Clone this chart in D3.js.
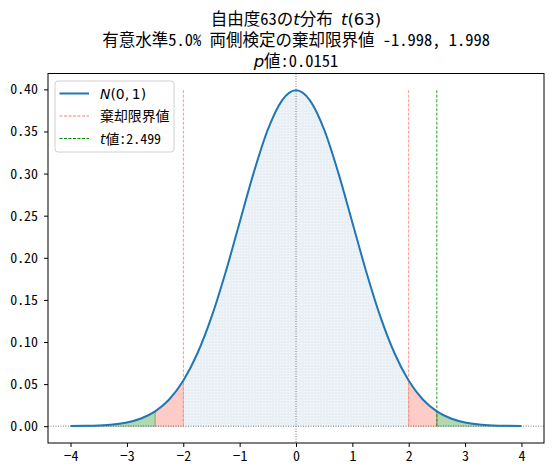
<!DOCTYPE html>
<html lang="ja">
<head>
    <meta charset="UTF-8">
    <title>t分布 棄却域</title>
    <script src="https://d3js.org/d3.v7.min.js"></script>
    <style>
        body { margin: 0; background: #fff; }
        text { font-family: "Noto Sans Mono CJK JP", "Noto Sans CJK JP", "DejaVu Sans", sans-serif; }
        .math { font-family: "DejaVu Sans", sans-serif; font-style: italic; }
    </style>
</head>
<body>
    <svg></svg>
<script>

    const xs = [-4, -3.75, -3.5, -3.25, -3, -2.75, -2.499, -2.25, -1.998, -1.75, -1.5, -1.25, -1, -0.75, -0.5, -0.25,
                0, 0.25, 0.5, 0.75, 1, 1.25, 1.5, 1.75, 1.998, 2.25, 2.499, 2.75, 3, 3.25, 3.5, 3.75, 4];
    const density = [0.0001, 0.0004, 0.0009, 0.0020, 0.0044, 0.0091, 0.0176, 0.0317, 0.0542, 0.0863, 0.1295, 0.1826, 0.2420, 0.3011, 0.3521, 0.3867,
                     0.3989, 0.3867, 0.3521, 0.3011, 0.2420, 0.1826, 0.1295, 0.0863, 0.0542, 0.0317, 0.0176, 0.0091, 0.0044, 0.0020, 0.0009, 0.0004, 0.0001];

    const critical = 1.998;   // 棄却限界値
    const tValue = 2.499;     // t値
    const pValue = "0.0151";
    const vlineTop = 0.4;

    const xTicks = [-4, -3, -2, -1, 0, 1, 2, 3, 4];
    const yTicks = [0, 0.05, 0.10, 0.15, 0.20, 0.25, 0.30, 0.35, 0.40];

    const width = 553;
    const height = 476;
    const plotLeft = 48, plotRight = 544, plotTop = 73.5, plotBottom = 443;

    const svg = d3.select("svg")
        .attr("width", width)
        .attr("height", height);

    svg.append("rect").attr("width", width).attr("height", height).attr("fill", "#fff");

    const x = d3.scaleLinear().domain([-4.4, 4.4]).range([plotLeft, plotRight]);
    const y = d3.scaleLinear().domain([-0.01995, 0.41884]).range([plotBottom, plotTop]);

    const pts = xs.map((v, i) => ({ x: v, y: density[i] }));
    const eps = 1e-9;

    // dotted texture for the centre region
    const defs = svg.append("defs");
    const pat = defs.append("pattern")
        .attr("id", "dots")
        .attr("width", 3).attr("height", 3)
        .attr("patternUnits", "userSpaceOnUse");
    pat.append("rect").attr("width", 3).attr("height", 3).attr("fill", "#e9f0f5");
    pat.append("rect").attr("x", 1).attr("y", 1).attr("width", 1).attr("height", 1).attr("fill", "#f8fafc");

    const clip = defs.append("clipPath").attr("id", "plot");
    clip.append("rect").attr("x", plotLeft).attr("y", plotTop)
        .attr("width", plotRight - plotLeft).attr("height", plotBottom - plotTop);

    const plot = svg.append("g").attr("clip-path", "url(#plot)");

    const area = d3.area()
        .curve(d3.curveMonotoneX)
        .x(d => x(d.x))
        .y0(y(0))
        .y1(d => y(d.y));

    const line = d3.line()
        .curve(d3.curveMonotoneX)
        .x(d => x(d.x))
        .y(d => y(d.y));

    const between = (a, b) => pts.filter(d => d.x >= a - eps && d.x <= b + eps);

    // centre region
    plot.append("path")
        .datum(between(-critical, critical))
        .attr("d", area)
        .attr("fill", "url(#dots)");

    // critical value .. t value
    [[-tValue, -critical], [critical, tValue]].forEach(([a, b]) => {
        plot.append("path")
            .datum(between(a, b))
            .attr("d", area)
            .attr("fill", "salmon").attr("fill-opacity", 0.4)
            .attr("stroke", "salmon").attr("stroke-opacity", 0.4).attr("stroke-width", 1);
    });

    // beyond the t value
    [[-4, -tValue], [tValue, 4]].forEach(([a, b]) => {
        plot.append("path")
            .datum(between(a, b))
            .attr("d", area)
            .attr("fill", "green").attr("fill-opacity", 0.3)
            .attr("stroke", "green").attr("stroke-opacity", 0.3).attr("stroke-width", 1);
    });

    // reference lines
    plot.append("line")
        .attr("x1", plotLeft).attr("x2", plotRight)
        .attr("y1", y(0)).attr("y2", y(0))
        .attr("stroke", "#555").attr("stroke-width", 0.8).attr("stroke-dasharray", "1,1.5");
    plot.append("line")
        .attr("x1", x(0)).attr("x2", x(0))
        .attr("y1", plotTop).attr("y2", plotBottom)
        .attr("stroke", "#555").attr("stroke-width", 0.8).attr("stroke-dasharray", "1,1.5");

    [-critical, critical].forEach(c => {
        plot.append("line")
            .attr("x1", x(c)).attr("x2", x(c))
            .attr("y1", y(0)).attr("y2", y(vlineTop))
            .attr("stroke", "salmon").attr("stroke-width", 0.8).attr("stroke-dasharray", "3,1.5");
    });
    plot.append("line")
        .attr("x1", x(tValue)).attr("x2", x(tValue))
        .attr("y1", y(0)).attr("y2", y(vlineTop))
        .attr("stroke", "green").attr("stroke-width", 0.8).attr("stroke-dasharray", "3,1.5");

    // N(0,1) curve
    plot.append("path")
        .datum(pts)
        .attr("d", line)
        .attr("fill", "none")
        .attr("stroke", "#1f77b4")
        .attr("stroke-width", 2);

    // axes
    const fmtX = d => d < 0 ? "\u2212" + Math.abs(d) : String(d);
    svg.append("g")
        .attr("transform", `translate(0, ${plotBottom})`)
        .call(d3.axisBottom(x).tickValues(xTicks).tickFormat(fmtX).tickSize(4).tickPadding(4))
        .call(g => g.select(".domain").remove())
        .call(g => g.selectAll("text").attr("font-size", 13.9).attr("fill", "#000")
            .style("font-family", "'Noto Sans Mono CJK JP', 'Noto Sans CJK JP', sans-serif"));

    svg.append("g")
        .attr("transform", `translate(${plotLeft}, 0)`)
        .call(d3.axisLeft(y).tickValues(yTicks).tickFormat(d3.format(".2f")).tickSize(4).tickPadding(6))
        .call(g => g.select(".domain").remove())
        .call(g => g.selectAll("text").attr("font-size", 13.9).attr("fill", "#000")
            .style("font-family", "'Noto Sans Mono CJK JP', 'Noto Sans CJK JP', sans-serif"));

    svg.append("rect")
        .attr("x", plotLeft).attr("y", plotTop)
        .attr("width", plotRight - plotLeft).attr("height", plotBottom - plotTop)
        .attr("fill", "none").attr("stroke", "#000").attr("stroke-width", 1);

    // title
    const cx = (plotLeft + plotRight) / 2;
    const t1 = svg.append("text").attr("x", cx).attr("y", 25).attr("text-anchor", "middle").attr("font-size", 16.5);
    t1.append("tspan").text("自由度63の");
    t1.append("tspan").attr("class", "math").text("t");
    t1.append("tspan").text("分布\u00a0");
    t1.append("tspan").attr("class", "math").text("t");
    t1.append("tspan").style("font-family", "'DejaVu Sans', sans-serif").text("(63)");

    svg.append("text").attr("x", cx).attr("y", 46).attr("text-anchor", "middle").attr("font-size", 16.5)
        .text(`有意水準5.0% 両側検定の棄却限界値 -${critical}, ${critical}`);

    const t3 = svg.append("text").attr("x", cx).attr("y", 67).attr("text-anchor", "middle").attr("font-size", 16.5);
    t3.append("tspan").attr("class", "math").text("p");
    t3.append("tspan").text(`値:${pValue}`);

    // legend
    const lg = svg.append("g").attr("transform", "translate(55, 81)");
    lg.append("rect")
        .attr("width", 119).attr("height", 71).attr("rx", 3)
        .attr("fill", "#fff").attr("fill-opacity", 0.8)
        .attr("stroke", "#d0d0d0").attr("stroke-width", 1);

    const entries = [
        { color: "#1f77b4", width: 2, dash: null },
        { color: "salmon", width: 1, dash: "3,1.5" },
        { color: "green", width: 1, dash: "3,1.5" }
    ];
    entries.forEach((e, i) => {
        const yy = 12.5 + i * 22.5;
        lg.append("line")
            .attr("x1", 4.5).attr("x2", 34).attr("y1", yy).attr("y2", yy)
            .attr("stroke", e.color).attr("stroke-width", e.width)
            .attr("stroke-dasharray", e.dash);
    });

    const l1 = lg.append("text").attr("x", 45).attr("y", 17.5).attr("font-size", 13.9);
    l1.append("tspan").attr("class", "math").text("N");
    l1.append("tspan").style("font-family", "'DejaVu Sans', sans-serif").text("(0,\u20091)");

    lg.append("text").attr("x", 45).attr("y", 40).attr("font-size", 13.9).text("棄却限界値");

    const l3 = lg.append("text").attr("x", 45).attr("y", 62.5).attr("font-size", 13.9);
    l3.append("tspan").attr("class", "math").text("t");
    l3.append("tspan").text(`値:${tValue}`);

</script>
</body>
</html>
